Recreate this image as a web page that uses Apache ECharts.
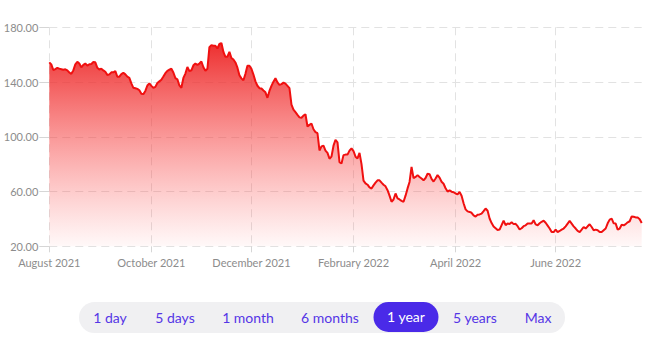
<!DOCTYPE html>
<html>
<head>
<meta charset="utf-8">
<script src="https://cdn.jsdelivr.net/npm/echarts@6/dist/echarts.min.js"></script>
<style>
  html, body { margin: 0; padding: 0; background: #fff; }
  #chart { position: absolute; left: 0; top: 0; width: 650px; height: 290px; }
  #bar { position: absolute; left: 79px; top: 302px; width: 486px; height: 31px; background: #f0f0f2; border-radius: 16px; font-family: Lato, "Open Sans", sans-serif; font-size: 14px; color: #5536e6; }
  #bar span { position: absolute; top: 0; height: 31px; line-height: 31px; transform: translateX(-50%); white-space: nowrap; }
  #bar span.sel { background: #4a2ae8; color: #fff; border-radius: 15px; width: 65px; text-align: center; height: 30px; top: 0; line-height: 30px; }
</style>
</head>
<body>
<div id="chart"></div>
<div id="bar">
  <span style="left:31px">1 day</span>
  <span style="left:96px">5 days</span>
  <span style="left:169px">1 month</span>
  <span style="left:251px">6 months</span>
  <span class="sel" style="left:327px">1 year</span>
  <span style="left:396px">5 years</span>
  <span style="left:459px">Max</span>
</div>
<script>
// Price samples, left to right across the year (evenly spaced along the x axis)
const prices = [
  154.4,152.9,148.8,149.5,150.4,149.8,149.4,149,149.3,148.5,
  147,146,148.5,153,154.8,153.5,150.7,152.5,153.5,152,
  153,153.2,154.6,154.4,150.4,149.2,149.8,148.5,147.5,145.1,
  145.6,147.1,147.1,148,143.9,143.9,145.8,146.8,145.6,143.9,
  143.1,139,135.8,135.5,135,134,131.5,131.2,133.5,137.5,
  139,137.2,135.8,136.5,139.3,140.5,141.7,144,146.5,148.2,
  149,149.7,147,142.9,142,137.5,135.8,143,146.2,151,
  148,148.6,152.2,153.5,152.6,153.5,155,150.8,148.3,149.7,
  165.5,167,166.5,166.5,164.5,167.8,168.5,162,158.4,158.5,
  162,157.6,156.5,154.3,150.5,145,142.7,141.3,146,151.9,
  151.9,149.7,145.5,140.5,137.3,135.5,135.3,133.8,132.5,128.5,
  133.5,137.2,140.3,142.8,139.8,137.9,138.5,139.6,138.8,137.2,
  135.5,123.5,119.8,118,116,114.2,113.9,115.5,116.5,107.5,
  108.7,109.7,105.5,103.4,102.6,90,93,93.5,89.9,88.2,
  84,85.5,93.5,97.8,96,81.5,80.5,86.6,87,87,
  89.9,91.6,89.6,85.5,84.2,88.3,80,68,66,65,
  63,62.2,64.5,66.5,68.2,68.2,66.5,65,63.8,61,
  57,52.5,54.2,58.6,55,54.2,53.2,52.5,57,62.3,
  67,78,69.8,70.7,72,70.6,69.5,68.2,69.9,73,
  72.7,69.2,67.3,69.5,72,70.2,67.2,65.7,62.4,60,
  60.9,59.9,59.5,58.6,58,59.7,57,51.5,47,45.5,
  45.1,44.5,42.6,41.7,43,43.3,43.9,45.7,47.6,46,
  40.3,37,34.5,33.2,31.9,32.2,35.5,38.8,35.4,36.7,
  36.3,37.5,36.2,36.4,34.7,32.3,33.2,34.7,35.3,36.6,
  36.7,36.6,39,36,35.4,36.8,37.9,38.7,37.2,35.1,
  33,30.4,30.4,32.2,30.4,31.2,32.2,33,34.6,36.6,
  38.5,36.6,34.6,33,31.2,30.4,32.2,34.1,33,34.6,
  36.1,34.1,31.7,32.2,31.7,30.4,30.4,31.7,33,36.8,
  39.5,40.2,36.8,36.6,32.2,33,35.8,35.3,36.2,37.5,
  38.3,41.8,41.6,41.1,41,39.8,37
];
// Month tick labels and the sample index where each falls
const tickLabels = ['August 2021','October 2021','December 2021','February 2022','April 2022','June 2022'];
const tickIndex = [0, 51, 101, 152, 203, 253];
// y axis tick values
const yMin = 20, yMax = 180, yStep = 40;

const categories = prices.map((_, i) => String(i));
const isTick = (i) => tickIndex.indexOf(i) >= 0;
const labelFont = 'Lato, "Open Sans", sans-serif';

const chart = echarts.init(document.getElementById('chart'), null, { renderer: 'svg' });
chart.setOption({
  animation: false,
  grid: { left: 49.3, right: 8.3, top: 27.3, bottom: 43.7 },
  xAxis: {
    type: 'category',
    data: categories,
    boundaryGap: false,
    axisLine: { show: false },
    axisTick: { show: true, interval: (i) => isTick(i), length: 6, lineStyle: { color: '#d6d6d6' } },
    axisLabel: {
      interval: (i) => isTick(i),
      formatter: (v) => { const k = tickIndex.indexOf(Number(v)); return k >= 0 ? tickLabels[k] : ''; },
      color: '#8c8c8c', fontSize: 11, fontFamily: labelFont, margin: 11
    },
    splitLine: { show: true, interval: (i) => isTick(i), lineStyle: { color: '#e2e2e2', type: [8, 5], width: 1 } }
  },
  yAxis: {
    type: 'value',
    min: yMin, max: yMax, interval: yStep,
    axisLine: { show: false },
    axisTick: { show: true, length: 10, lineStyle: { color: '#d6d6d6' } },
    axisLabel: { formatter: (v) => v.toFixed(2), color: '#8c8c8c', fontSize: 11, fontFamily: labelFont, margin: 11 },
    splitLine: { lineStyle: { color: '#e2e2e2', type: [8, 5], width: 1 } }
  },
  series: [{
    type: 'line',
    data: prices,
    showSymbol: false,
    smooth: false,
    lineStyle: { color: '#f01010', width: 2 },
    areaStyle: {
      opacity: 1,
      color: new echarts.graphic.LinearGradient(0, 0, 0, 1, [
        { offset: 0, color: 'rgba(236,36,36,0.95)' },
        { offset: 1, color: 'rgba(255,90,90,0.04)' }
      ])
    }
  }]
});
</script>
</body>
</html>
